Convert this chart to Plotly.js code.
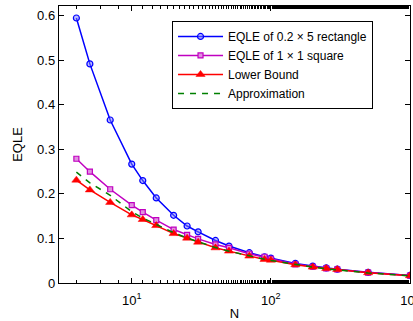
<!DOCTYPE html>
<html>
<head>
<meta charset="utf-8">
<script src="https://cdn.plot.ly/plotly-3.0.1.min.js"></script>
<style>html,body{margin:0;padding:0;background:#fff;overflow:hidden;}#chart{width:413px;height:321px;}</style>
</head>
<body>
<div id="chart"></div>
<script>
var N = [4, 5, 7, 10, 12, 15, 20, 25, 30, 40, 50, 70, 90, 100, 150, 200, 250, 300, 500, 1000];
var rectEQLE = [0.595, 0.492, 0.366, 0.267, 0.230, 0.191, 0.152, 0.128, 0.115, 0.0955, 0.083, 0.068, 0.059, 0.056, 0.044, 0.038, 0.034, 0.031, 0.024, 0.017];
var squareEQLE = [0.279, 0.250, 0.2105, 0.175, 0.159, 0.141, 0.120, 0.108, 0.099, 0.0866, 0.079, 0.0657, 0.059, 0.0545, 0.042, 0.0365, 0.033, 0.0305, 0.0235, 0.0166];
var lowerBound = [0.231, 0.209, 0.181, 0.153, 0.1426, 0.129, 0.111, 0.1007, 0.0917, 0.079, 0.0716, 0.0604, 0.053, 0.0513, 0.041, 0.0357, 0.0327, 0.0303, 0.023, 0.0164];
var approximation = [0.249, 0.225, 0.197, 0.160, 0.146, 0.131, 0.113, 0.101, 0.092, 0.0795, 0.0715, 0.0605, 0.0533, 0.0507, 0.0412, 0.0357, 0.0319, 0.0292, 0.0226, 0.016];
var names = ['EQLE of 0.2 \u00d7 5 rectangle', 'EQLE of 1 \u00d7 1 square', 'Lower Bound', 'Approximation'];
var xTickVals = [10, 100, 1000];
var xTickText = ['10<sup>1</sup>', '10<sup>2</sup>', '10<sup>3</sup>'];

var traces = [
  {x: N, y: rectEQLE, name: names[0], mode: 'lines+markers', type: 'scatter',
   line: {color: '#0000ff', width: 1.5},
   marker: {symbol: 'circle', size: 6, color: 'rgba(120,120,255,0.5)', line: {color: '#0000ff', width: 1.2}}},
  {x: N, y: squareEQLE, name: names[1], mode: 'lines+markers', type: 'scatter',
   line: {color: '#c000c0', width: 1.5},
   marker: {symbol: 'square', size: 5, color: '#e090e0', line: {color: '#c000c0', width: 1.2}}},
  {x: N, y: lowerBound, name: names[2], mode: 'lines+markers', type: 'scatter',
   line: {color: '#ff0000', width: 1.5},
   marker: {symbol: 'triangle-up', size: 8, color: '#ff0000', line: {color: '#ff0000', width: 0.5}}},
  {x: N, y: approximation, name: names[3], mode: 'lines', type: 'scatter',
   line: {color: '#008000', width: 1.5, dash: '6px,6px'}}
];

var fam = 'Liberation Sans, Arial, sans-serif';
var layout = {
  width: 413, height: 321,
  margin: {l: 59, r: 3, t: 6, b: 38},
  paper_bgcolor: '#fff', plot_bgcolor: '#fff',
  font: {family: fam, size: 13, color: '#000'},
  showlegend: true,
  xaxis: {
    type: 'log', range: [Math.log10(3), 3],
    tickvals: xTickVals, ticktext: xTickText,
    ticks: 'inside', ticklen: 5, tickcolor: '#000', tickwidth: 1,
    ticklabelstandoff: 5, ticklabeloverflow: 'allow',
    minor: {ticks: 'inside', ticklen: 3, tickcolor: '#000', tickwidth: 1, showgrid: false},
    showline: true, linecolor: '#000', linewidth: 1.2, mirror: 'ticks',
    showgrid: false, zeroline: false,
    tickfont: {family: fam, size: 13, color: '#000'},
    title: {text: 'N', font: {family: fam, size: 13, color: '#000'}, standoff: 2}
  },
  yaxis: {
    range: [0, 0.622], tickvals: [0, 0.1, 0.2, 0.3, 0.4, 0.5, 0.6],
    ticktext: ['0', '0.1', '0.2', '0.3', '0.4', '0.5', '0.6'],
    ticks: 'inside', ticklen: 5, tickcolor: '#000', tickwidth: 1,
    showline: true, linecolor: '#000', linewidth: 1.2, mirror: 'ticks',
    showgrid: false, zeroline: false,
    tickfont: {family: fam, size: 13, color: '#000'},
    title: {text: 'EQLE', font: {family: fam, size: 13, color: '#000'}, standoff: 11}
  },
  legend: {
    x: 0.322, y: 0.946, xanchor: 'left', yanchor: 'top',
    bgcolor: '#fff', bordercolor: '#000', borderwidth: 1,
    font: {family: fam, size: 12, color: '#000'}, tracegroupgap: 0, itemwidth: 45
  }
};
Plotly.newPlot('chart', traces, layout, {staticPlot: true, displayModeBar: false});
</script>
</body>
</html>
